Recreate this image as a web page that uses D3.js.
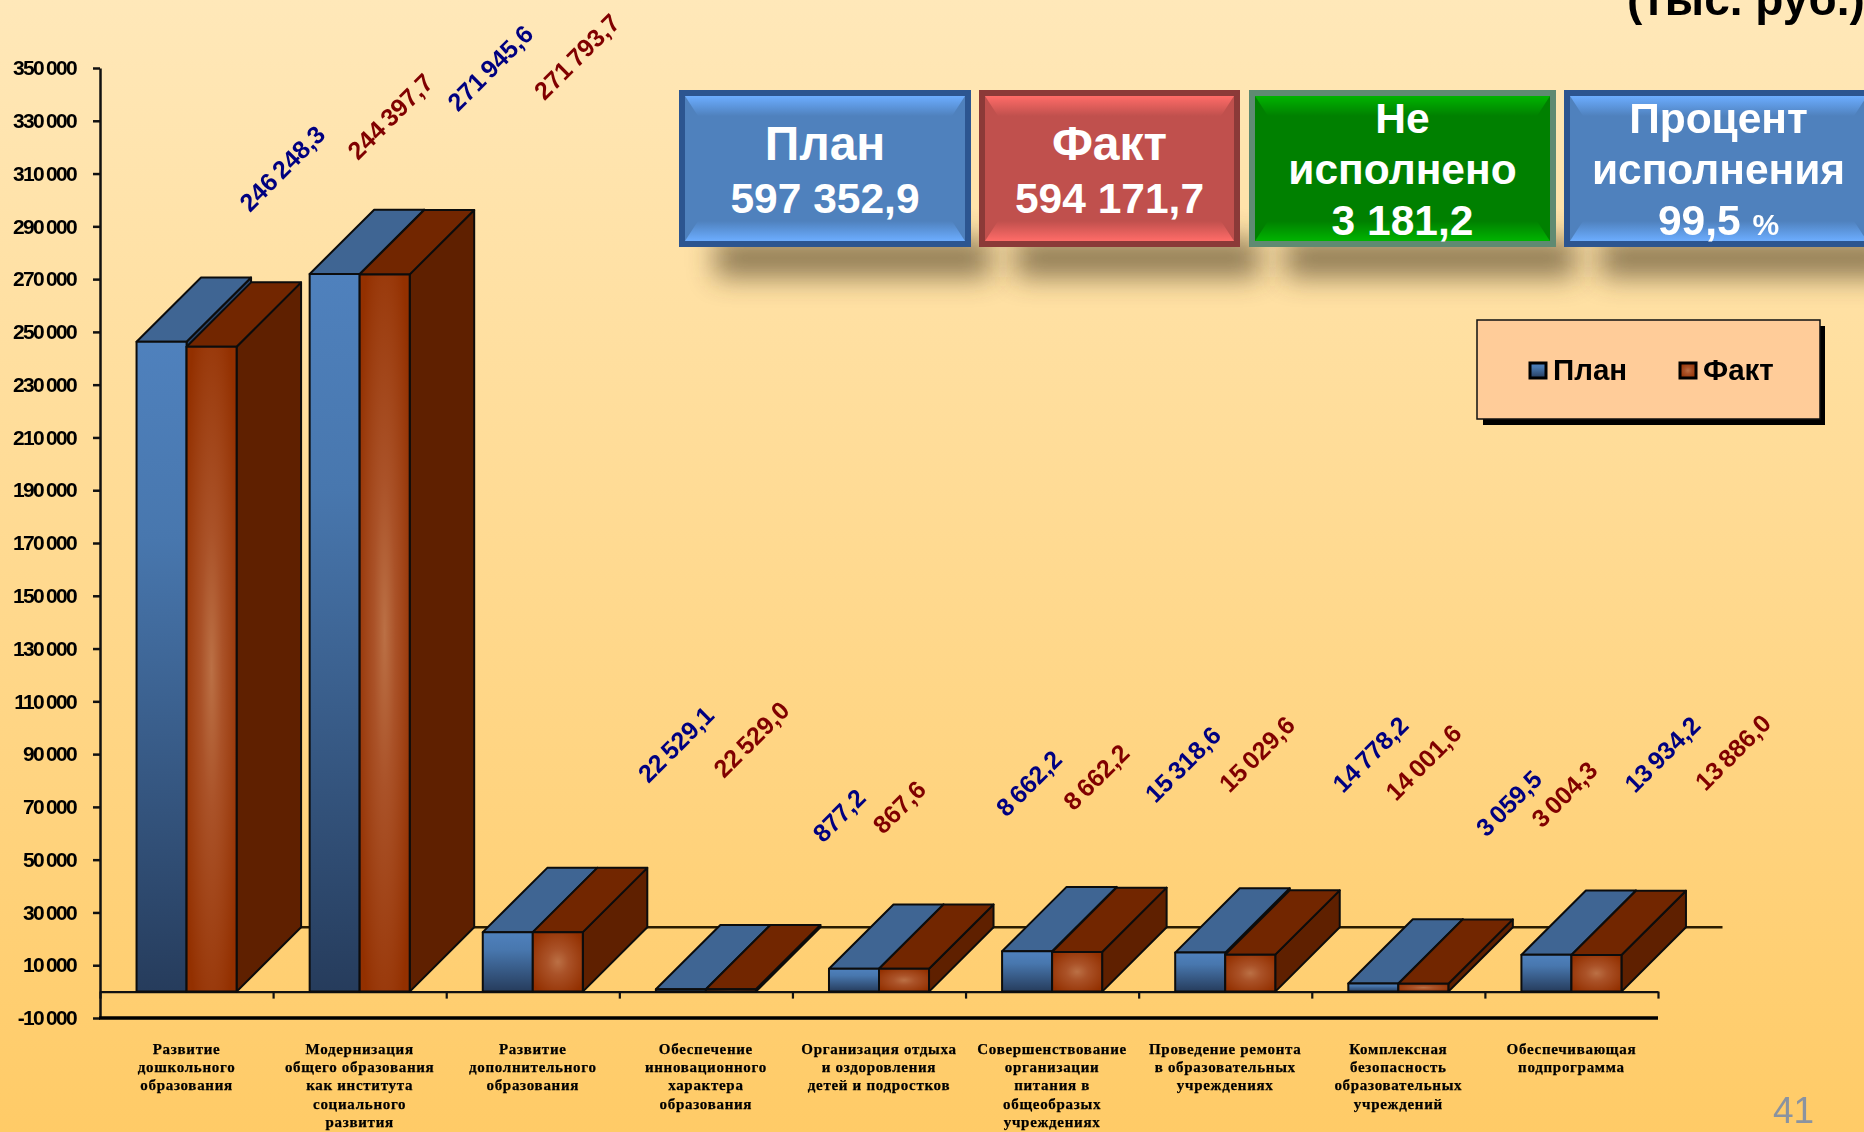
<!DOCTYPE html>
<html lang="ru"><head><meta charset="utf-8">
<script src="https://cdn.jsdelivr.net/npm/d3@7/dist/d3.min.js"></script>
<style>html,body{margin:0;padding:0;overflow:hidden;background:#ffcc66}svg{display:block}</style>
</head><body><svg id="c" width="1864" height="1132"></svg>
<script>
const categories=[
["Развитие","дошкольного","образования"],
["Модернизация","общего образования","как института","социального","развития"],
["Развитие","дополнительного","образования"],
["Обеспечение","инновационного","характера","образования"],
["Организация отдыха","и оздоровления","детей и подростков"],
["Совершенствование","организации","питания в","общеобразых","учреждениях"],
["Проведение ремонта","в образовательных","учреждениях"],
["Комплексная","безопасность","образовательных","учреждений"],
["Обеспечивающая","подпрограмма"]];
const planValues=[246248.3,271945.6,22529.1,877.2,8662.2,15318.6,14778.2,3059.5,13934.2];
const factValues=[244397.7,271793.7,22529.0,867.6,8662.2,15029.6,14001.6,3004.3,13886.0];
const yTickValues=[-10000,10000,30000,50000,70000,90000,110000,130000,150000,170000,190000,210000,230000,250000,270000,290000,310000,330000,350000];
const seriesNames=["План","Факт"];
const summaryLines=[["План","597 352,9"],["Факт","594 171,7"],["Не","исполнено","3 181,2"],["Процент","исполнения","99,5 %"]];
const pageNumber="41", unitsText="(тыс. руб.)";
// hand placement of the rotated value labels relative to the bar top [plan dx,dy, fact dx,dy]
const labelNudges=[[120.5,-174.6,178.5,-231.5],[155.4,-207.3,192,-219],[167.8,-189,193.3,-194],[158,-175,168.2,-183.5],[174.7,-186.6,192.1,-192.9],[155.5,-188,179.6,-199],[169.9,-199.5,172.9,-193.5],[135.4,-181.4,140.8,-190.6],[115.7,-201.7,136.3,-203.9]];

const W=1864,H=1132,left=100,right=1658,depthX=64.5,depthY=64.3;
const svg=d3.select("#c"),defs=svg.append("defs");
const locale=d3.formatLocale({decimal:",",thousands:" ",grouping:[3],currency:["",""],minus:"-"});
const fmtTick=locale.format(","),fmtVal=locale.format(",.1f");
const y=d3.scaleLinear().domain([-10000,350000]).range([1018,68]);
const x=d3.scaleBand().domain(d3.range(categories.length)).range([left,right]).paddingInner(0.4221).paddingOuter(0.2111);
const edge=d3.scaleLinear().domain([0,categories.length]).range([left,right]);
const inner=d3.scaleBand().domain([0,1]).range([0,x.bandwidth()]);

function lin(id,stops,v=true){const g=defs.append("linearGradient").attr("id",id).attr("x1",0).attr("y1",0).attr("x2",v?0:1).attr("y2",v?1:0);
 stops.forEach(s=>g.append("stop").attr("offset",s[0]).attr("stop-color",s[1]));}
lin("bg",[[0,"#ffe8b9"],[1,"#ffcb67"]]);
lin("planFront",[[0,"#4f81bd"],[0.3,"#4877ae"],[1,"#263c5c"]]);
const rg=defs.append("radialGradient").attr("id","factFront").attr("cx",.5).attr("cy",.5).attr("r",.62);
[[0,"#bb7045"],[0.35,"#aa5228"],[1,"#933000"]].forEach(s=>rg.append("stop").attr("offset",s[0]).attr("stop-color",s[1]));
const blur=defs.append("filter").attr("id","sh").attr("filterUnits","userSpaceOnUse").attr("x",0).attr("y",150).attr("width",W).attr("height",250);
blur.append("feGaussianBlur").attr("stdDeviation",14);

const root=svg.append("g").style("filter","blur(0.5px)");
root.append("rect").attr("width",W).attr("height",H).attr("fill","url(#bg)");

// units
root.append("text").attr("x",1627).attr("y",15).attr("font-family","Liberation Sans").attr("font-weight",700).attr("font-size",46).attr("fill","#000").text(unitsText);

// floor back line
root.append("line").attr("x1",left+depthX).attr("x2",right+depthX).attr("y1",y(0)-depthY).attr("y2",y(0)-depthY).attr("stroke","#2a1c00").attr("stroke-width",2.5);

// y axis
const yAxis=root.append("g").attr("transform",`translate(${left},0)`).call(d3.axisLeft(y).tickValues(yTickValues).tickFormat(fmtTick).tickSize(7).tickSizeOuter(0).tickPadding(17));
yAxis.selectAll("path,line").attr("stroke","#111").attr("stroke-width",2.5);
yAxis.selectAll("text").attr("font-family","Liberation Sans").attr("font-weight",700).attr("font-size",21).attr("fill","#000").style("letter-spacing","-1.7px").style("word-spacing","-1px");

// baseline + bottom line
const xAxis=root.append("g").attr("transform",`translate(0,${y(0)})`).call(d3.axisBottom(edge).tickValues(d3.range(categories.length+1)).tickFormat("").tickSize(7).tickSizeOuter(0));
xAxis.selectAll("path,line").attr("stroke","#111").attr("stroke-width",2.2);
root.append("line").attr("x1",left-1).attr("x2",right).attr("y1",y(-10000)).attr("y2",y(-10000)).attr("stroke","#000").attr("stroke-width",3.5);

// bars
const bw=inner.bandwidth();
const styles=[{front:"url(#planFront)",top:"#3f6593",side:"#2c4870"},{front:"url(#factFront)",top:"#722600",side:"#5f2000"}];
const bars=[];
categories.forEach((c,i)=>{[planValues[i],factValues[i]].forEach((v,s)=>bars.push({i,s,v}));});
const gb=root.selectAll("g.bar").data(bars).join("g").attr("class","bar").attr("stroke","#0c0c0c").attr("stroke-width",2).attr("stroke-linejoin","round");
gb.each(function(d){
 const g=d3.select(this),x0=x(d.i)+inner(d.s),x1=x0+bw,t=y(d.v),b=y(0),st=styles[d.s];
 g.append("path").attr("fill",st.side).attr("d",d3.line()([[x1,t],[x1+depthX,t-depthY],[x1+depthX,b-depthY],[x1,b]])+"Z");
 g.append("path").attr("fill",st.top).attr("d",d3.line()([[x0,t],[x0+depthX,t-depthY],[x1+depthX,t-depthY],[x1,t]])+"Z");
 g.append("rect").attr("x",x0).attr("y",t).attr("width",bw).attr("height",b-t).attr("fill",st.front);
});

// value labels
root.selectAll("text.val").data(bars).join("text").attr("class","val")
 .attr("transform",d=>{const n=labelNudges[d.i];return `translate(${x(d.i)+inner(d.s)+bw/2+n[d.s*2]},${y(d.v)+n[d.s*2+1]+1}) rotate(-45)`;})
 .attr("text-anchor","middle").attr("dominant-baseline","central")
 .attr("font-family","Liberation Sans").attr("font-weight",700).attr("font-size",25)
 .style("word-spacing","-2.5px").attr("fill",d=>d.s?"#800000":"#000080").text(d=>fmtVal(d.v));

// category labels
const gc=root.selectAll("text.cat").data(categories).join("text").attr("class","cat")
 .attr("text-anchor","middle").attr("font-family","Liberation Serif").attr("font-weight",700).attr("font-size",15).attr("fill","#000").attr("stroke","#000").attr("stroke-width",.25).style("letter-spacing","0.7px");
gc.each(function(lines,i){d3.select(this).selectAll("tspan").data(lines).join("tspan").attr("x",x(i)+x.bandwidth()/2).attr("y",(l,k)=>1054+k*18.2).text(l=>l);});

// summary boxes
const boxGeom=[[679,292],[979,261],[1249,307],[1564,309]];
const boxCols=[{b:"#2c5590",l:"#6cadff",m:"#4f81bd"},{b:"#8b3a38",l:"#ff6c68",m:"#c0504d"},{b:"#5f8a72",l:"#00b400",m:"#008000"},{b:"#2c5590",l:"#6cadff",m:"#4f81bd"}];
boxCols.forEach((c,i)=>{lin("bt"+i,[[0,c.l],[1,c.m]]);lin("bb"+i,[[0,c.m],[1,c.l]]);});
const by=90,bh=157;
const gs=root.selectAll("g.box").data(summaryLines).join("g").attr("class","box");
gs.each(function(lines,i){
 const g=d3.select(this),[bx,bw2]=boxGeom[i];
 g.append("rect").attr("x",bx+36).attr("y",by+bh-8).attr("width",bw2-16).attr("height",38).attr("fill","#4a3a20").attr("opacity",.62).attr("filter","url(#sh)");
});
gs.each(function(lines,i){
 const g=d3.select(this),[bx,bw2]=boxGeom[i],c=boxCols[i],a=6,il=bx+a,ir=bx+bw2-a,it=by+a,ib=by+bh-a,cx=13,cy=20;
 g.append("rect").attr("x",bx).attr("y",by).attr("width",bw2).attr("height",bh).attr("fill",c.b);
 g.append("rect").attr("x",il).attr("y",it).attr("width",ir-il).attr("height",ib-it).attr("fill",c.m);
 g.append("path").attr("fill",`url(#bt${i})`).attr("d",d3.line()([[il,it],[ir,it],[ir-cx,it+cy],[il+cx,it+cy]])+"Z");
 g.append("path").attr("fill",`url(#bb${i})`).attr("d",d3.line()([[il+cx,ib-cy],[ir-cx,ib-cy],[ir,ib],[il,ib]])+"Z");
 const baselines=lines.length===2?[160,213]:[133,184,235];
 const t=g.selectAll("text").data(lines).join("text").attr("x",bx+bw2/2).attr("y",(l,k)=>baselines[k]).attr("text-anchor","middle")
  .attr("font-family","Liberation Sans").attr("font-weight",700).attr("fill","#fff")
  .attr("font-size",(l,k)=>lines.length===2&&k===0?48:42.5);
 t.each(function(l){const s=d3.select(this);
  if(l.endsWith("%")){s.append("tspan").text(l.slice(0,-1));s.append("tspan").attr("font-size",30).text("%");}
  else s.text(l);});
});

// legend
const lg=root.append("g");
lg.append("rect").attr("x",1483).attr("y",326).attr("width",342).attr("height",99).attr("fill","#000");
lg.append("rect").attr("x",1477).attr("y",320).attr("width",343).attr("height",99).attr("fill","#ffcc99").attr("stroke","#111").attr("stroke-width",1.5);
[[1530,1553],[1680,1703]].forEach((p,i)=>{
 lg.append("rect").attr("x",p[0]).attr("y",363).attr("width",16).attr("height",15).attr("fill",styles[i].front).attr("stroke","#000").attr("stroke-width",3);
 lg.append("text").attr("x",p[1]).attr("y",380).attr("font-family","Liberation Sans").attr("font-weight",700).attr("font-size",29.5).attr("fill","#000").text(seriesNames[i]);
});

// page number
root.append("text").attr("x",1773).attr("y",1123).attr("font-family","Liberation Sans").attr("font-size",37).attr("fill","#8a93a0").text(pageNumber);
</script></body></html>
